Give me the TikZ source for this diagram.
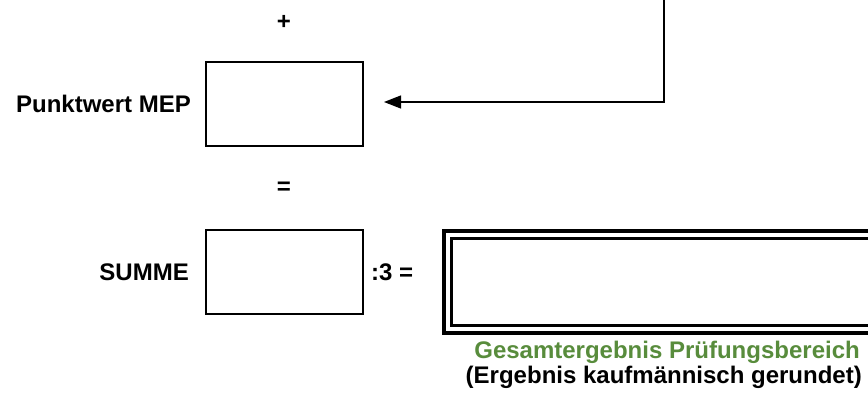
\documentclass[tikz,border=0pt]{standalone}
\usepackage{fontspec}
\setmainfont{Liberation Sans}
\usetikzlibrary{arrows.meta}
\definecolor{resgreen}{RGB}{88,140,60}
\tikzset{
  lbl/.style={font=\fontsize{24}{28}\selectfont\bfseries, inner sep=0pt},
  fieldbox/.style={draw=black, line width=2pt, minimum width=157pt, minimum height=84pt, inner sep=0pt},
  conn/.style={draw=black, line width=1.3pt, -{Triangle[length=17pt,width=13pt]}}
}
\begin{document}
\begin{tikzpicture}[x=1pt,y=1pt]
\useasboundingbox (0,0) rectangle (868,-394);
\node[lbl] (plus) at (284,-22) {+};
\node[fieldbox] (mep) at (284.5,-104) {};
\node[lbl, anchor=east] (mepl) at (191,-104) {Punktwert MEP};
\coordinate (top) at (664,2);
\coordinate (corner) at (664,-102);
\coordinate (tip) at (384,-102);
\draw[conn] (top) -- (corner) -- (tip);
\node[lbl] (eq) at (284,-188) {=};
\node[fieldbox] (summe) at (284.5,-272) {};
\node[lbl, anchor=east] (summel) at (189,-272) {SUMME};
\node[lbl, anchor=west] (div) at (371,-272) {:3 =};
\draw[line width=3.6pt] (444,-231) rectangle (900,-333);
\draw[line width=3pt] (451.5,-238.5) rectangle (900,-325.5);
\node[lbl, text=resgreen, anchor=east] (gt) at (860,-352) {Gesamtergebnis Prüfungsbereich};
\node[lbl, anchor=east] (rd) at (862,-377) {(Ergebnis kaufmännisch gerundet)};
\end{tikzpicture}
\end{document}
